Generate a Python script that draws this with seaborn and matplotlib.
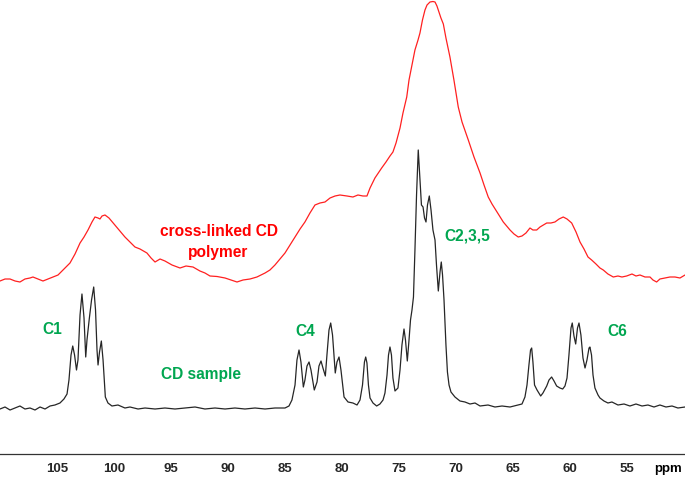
import numpy as np
import pandas as pd
import matplotlib
matplotlib.use("Agg")
import matplotlib.pyplot as plt
import seaborn as sns
from matplotlib.ticker import MultipleLocator, FixedLocator, FixedFormatter

sns.set_style("white")
plt.rcParams['font.family'] = ['Liberation Sans', 'DejaVu Sans']

# ---- CD sample (black) : chemical shift (ppm) and intensity (a.u.) ----
cd_ppm = [110.00, 109.56, 109.12, 108.68, 108.25, 107.81, 107.37, 106.93, 106.49, 106.05,
          105.61, 105.18, 104.74, 104.39, 104.12, 103.95, 103.77, 103.62, 103.46, 103.29,
          103.16, 102.98, 102.81, 102.63, 102.48, 102.37, 102.17, 101.97, 101.78, 101.62,
          101.49, 101.40, 101.27, 101.11, 100.96, 100.76, 100.53, 100.18, 99.65, 99.04,
          98.60, 97.89, 97.28, 96.40, 95.53, 94.65, 93.77, 92.89, 92.02, 91.14,
          90.26, 89.39, 88.51, 87.63, 86.75, 85.88, 85.00, 84.65, 84.39, 84.12,
          83.95, 83.77, 83.60, 83.39, 83.25, 83.07, 82.89, 82.72, 82.43, 82.19,
          82.02, 81.84, 81.67, 81.46, 81.32, 81.14, 80.99, 80.83, 80.59, 80.44,
          80.26, 80.09, 79.82, 79.47, 79.04, 78.68, 78.42, 78.20, 78.03, 77.92,
          77.81, 77.68, 77.54, 77.28, 76.96, 76.67, 76.40, 76.23, 76.05, 75.92,
          75.79, 75.66, 75.53, 75.35, 75.09, 74.91, 74.74, 74.56, 74.43, 74.27,
          74.12, 73.99, 73.86, 73.73, 73.60, 73.46, 73.31, 73.16, 73.03, 72.89,
          72.76, 72.63, 72.50, 72.34, 72.19, 72.02, 71.84, 71.71, 71.55, 71.40,
          71.29, 71.18, 71.05, 70.88, 70.75, 70.61, 70.44, 70.09, 69.65, 69.21,
          68.77, 68.33, 67.89, 67.19, 66.58, 65.96, 65.26, 64.56, 64.21, 63.95,
          63.77, 63.60, 63.46, 63.36, 63.25, 63.11, 62.89, 62.57, 62.37, 62.04,
          61.84, 61.61, 61.40, 61.17, 60.88, 60.64, 60.44, 60.26, 60.09, 59.91,
          59.80, 59.65, 59.50, 59.34, 59.21, 59.04, 58.86, 58.68, 58.51, 58.33,
          58.25, 58.11, 57.98, 57.81, 57.54, 57.37, 57.02, 56.67, 56.32, 55.79,
          55.26, 54.74, 54.21, 53.68, 53.16, 52.63, 52.11, 51.58, 51.05, 50.53, 49.91]
cd_int = [45, 47, 44, 46, 48, 45, 46, 44, 47, 45,
          48, 49, 51, 55, 60, 74, 99, 108, 99, 84,
          94, 139, 160, 136, 97, 114, 135, 154, 167, 144,
          104, 89, 102, 113, 94, 57, 51, 48, 49, 46,
          47, 45, 46, 45, 46, 45, 46, 47, 45, 46,
          45, 46, 45, 46, 45, 46, 46, 48, 54, 69,
          94, 104, 92, 67, 74, 88, 92, 84, 64, 72,
          88, 93, 86, 78, 99, 124, 131, 119, 81, 92,
          97, 84, 57, 52, 51, 49, 54, 69, 92, 97,
          91, 69, 56, 51, 48, 50, 54, 61, 79, 99,
          107, 99, 76, 63, 66, 84, 109, 125, 114, 93,
          114, 134, 144, 157, 204, 259, 304, 274, 249, 247,
          236, 232, 249, 258, 244, 224, 214, 189, 163, 182,
          192, 179, 154, 109, 82, 69, 62, 57, 53, 52,
          50, 51, 48, 49, 47, 48, 47, 49, 50, 57,
          69, 89, 104, 106, 92, 69, 64, 58, 61, 68,
          74, 77, 73, 68, 66, 65, 68, 76, 99, 126,
          131, 118, 110, 126, 131, 119, 96, 86, 94, 106,
          107, 99, 79, 66, 59, 56, 53, 51, 52, 49,
          50, 48, 50, 48, 49, 47, 49, 47, 48, 46, 47]

# ---- cross-linked CD polymer (red) ----
pol_ppm = [110.00, 109.56, 109.12, 108.68, 108.25, 107.81, 107.37, 107.11, 106.67, 106.23,
           105.79, 105.35, 104.91, 104.47, 104.12, 103.86, 103.42, 102.98, 102.63, 102.28,
           101.93, 101.67, 101.40, 101.23, 101.05, 100.79, 100.44, 100.09, 99.56, 99.04,
           98.60, 98.16, 97.72, 97.11, 96.75, 96.40, 95.96, 95.53, 94.91, 94.21,
           93.68, 93.07, 92.46, 92.02, 91.58, 90.96, 90.26, 89.74, 89.21, 88.68,
           88.07, 87.46, 86.75, 86.32, 85.88, 85.44, 85.00, 84.56, 84.12, 83.68,
           83.25, 82.81, 82.37, 81.93, 81.49, 81.05, 80.61, 80.18, 79.56, 79.04,
           78.60, 78.16, 77.81, 77.54, 77.11, 76.52, 76.14, 75.79, 75.53, 75.26,
           74.91, 74.65, 74.32, 74.12, 73.89, 73.60, 73.33, 73.16, 72.94, 72.72,
           72.54, 72.28, 72.02, 71.84, 71.67, 71.55, 71.32, 71.11, 70.88, 70.53,
           70.18, 69.80, 69.47, 68.92, 68.42, 67.89, 67.54, 67.17, 66.84, 66.40,
           65.85, 65.26, 64.91, 64.54, 64.21, 63.86, 63.51, 63.25, 62.92, 62.63,
           62.04, 61.67, 61.32, 60.96, 60.59, 60.26, 59.85, 59.47, 59.12, 58.77,
           58.42, 58.10, 57.72, 57.37, 57.08, 56.67, 56.20, 55.79, 55.44, 55.03,
           54.56, 54.21, 53.86, 53.42, 52.98, 52.72, 52.40, 52.11, 51.67, 51.23,
           50.79, 50.35, 49.91]
pol_int = [173, 175, 175, 173, 172, 175, 176, 177, 175, 173,
           175, 177, 179, 184, 188, 191, 200, 211, 217, 224,
           232, 237, 236, 235, 238, 239, 236, 231, 224, 217,
           212, 207, 205, 201, 196, 192, 195, 193, 189, 186,
           188, 187, 183, 181, 178, 177.5, 176, 174, 172, 174,
           175, 177, 181, 184, 189, 195, 201, 209, 217, 225,
           232, 241, 249, 251, 252, 256, 258, 259, 258, 257,
           259, 258, 258, 266, 276, 286, 292, 298, 302, 311,
           326, 341, 357, 374, 387, 404, 414, 421, 434, 444,
           449, 452, 452.5, 452, 448, 444, 436, 430, 416, 397,
           374, 347, 332, 314, 297, 281, 269, 257, 250, 242,
           232, 224, 220, 217, 218, 221, 226, 224, 224, 227,
           231, 231, 232, 235, 237, 235, 231, 222, 212, 205,
           197, 194, 190, 186, 184, 180, 177, 178, 177, 178,
           180, 178, 179, 177, 177, 174, 172, 175, 176, 177,
           177, 176, 179]

tick_values = [105, 100, 95, 90, 85, 80, 75, 70, 65, 60, 55]
tick_labels = [str(v) for v in tick_values]

peak_labels = ["C1", "C4", "C2,3,5", "C6"]
peak_label_ppm = [105.44, 83.20, 68.99, 55.88]
peak_label_int = [124, 122, 218, 122]

df_cd = pd.DataFrame({"ppm": cd_ppm, "intensity": cd_int})
df_pol = pd.DataFrame({"ppm": pol_ppm, "intensity": pol_int})

W, H = 685, 479
fig = plt.figure(figsize=(W / 100, H / 100), dpi=100)
ax = fig.add_axes([0, 25 / H, 1, 454 / H])

sns.lineplot(data=df_pol, x="ppm", y="intensity", ax=ax, color="#FF2020",
             linewidth=0.9, estimator=None)
sns.lineplot(data=df_cd, x="ppm", y="intensity", ax=ax, color="#262626",
             linewidth=0.9, estimator=None)

ax.set_xlim(110.0, 49.91)
ax.set_ylim(0, 454)

for s in ["left", "top", "right"]:
    ax.spines[s].set_visible(False)
ax.spines["bottom"].set_color("#333333")
ax.spines["bottom"].set_linewidth(0.9)
ax.set_yticks([])
ax.set_xlabel("")
ax.set_ylabel("")

ax.xaxis.set_major_locator(FixedLocator(tick_values))
ax.xaxis.set_major_formatter(FixedFormatter(tick_labels))
ax.xaxis.set_minor_locator(MultipleLocator(1))
ax.tick_params(axis="x", which="major", direction="out", length=4, width=0.8,
               color="#333333", pad=2.5, labelsize=9.5)
ax.tick_params(axis="x", which="minor", direction="out", length=2, width=0.7,
               color="#333333")
for lbl in ax.get_xticklabels():
    lbl.set_fontweight("bold")

ax.text(51.38, -15, "ppm", ha="center", va="center", fontsize=9.5,
        fontweight="bold", color="black", clip_on=False)

green = "#00A650"
fs = 11.2
for t, xp, yp in zip(peak_labels, peak_label_ppm, peak_label_int):
    ax.text(xp, yp, t, ha="center", va="center", fontsize=fs,
            fontweight="bold", color=green)
ax.text(92.41, 80, "CD sample", ha="center", va="center", fontsize=fs,
        fontweight="bold", color=green)
ax.text(90.79, 223, "cross-linked CD", ha="center", va="center", fontsize=fs,
        fontweight="bold", color="#FF0000")
ax.text(90.83, 202, "polymer", ha="center", va="center", fontsize=fs,
        fontweight="bold", color="#FF0000")

fig.savefig("out.png", dpi=100)
